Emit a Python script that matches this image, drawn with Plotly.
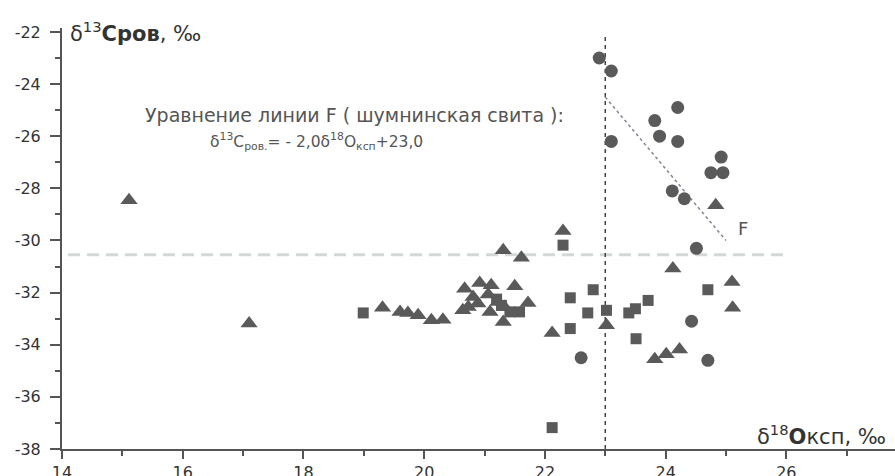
import plotly.graph_objects as go

# Isotope data: delta18O (carbonate) vs delta13C (organic matter)
circle_x = [22.9, 23.1, 24.2, 23.82, 23.9, 24.2, 23.1, 24.92, 24.75, 24.95, 24.11, 24.31, 24.51, 24.43, 22.6, 24.7]
circle_y = [-23.0, -23.5, -24.9, -25.4, -26.0, -26.2, -26.2, -26.8, -27.4, -27.4, -28.1, -28.4, -30.3, -33.1, -34.5, -34.6]

square_x = [22.3, 22.8, 22.42, 23.71, 23.5, 23.39, 22.71, 23.02, 22.42, 23.51, 22.12, 24.7, 18.99, 21.28, 21.42, 21.58, 21.2]
square_y = [-30.18, -31.89, -32.2, -32.3, -32.62, -32.78, -32.78, -32.68, -33.38, -33.77, -37.18, -31.89, -32.78, -32.49, -32.74, -32.74, -32.25]

triangle_x = [15.11, 17.10, 19.31, 19.60, 19.73, 19.90, 20.12, 20.31, 20.67, 20.92, 21.11, 21.50,
              20.81, 21.06, 20.73, 20.89, 21.22, 21.33, 21.72, 21.09, 21.31, 20.64, 21.31, 21.61,
              22.30, 24.83, 24.12, 25.10, 25.11, 23.02, 22.12, 24.23, 24.01, 23.82]
triangle_y = [-28.46, -33.19, -32.58, -32.74, -32.78, -32.87, -33.06, -33.04, -31.85, -31.63, -31.72, -31.76,
              -32.17, -32.07, -32.55, -32.42, -32.36, -32.55, -32.40, -32.74, -33.13, -32.68, -30.38, -30.66,
              -29.64, -28.65, -31.08, -31.59, -32.58, -33.25, -33.55, -34.18, -34.37, -34.56]

# Reference lines
hline_y = -30.55
hline_x = [14.1, 26.0]
vline_x = 23.0
vline_y = [-22.2, -38.0]
line_f_x = [23.0, 25.0]
line_f_y = [-24.5, -30.0]

x_ticks = [14, 16, 18, 20, 22, 24, 26]
y_ticks = [-38, -36, -34, -32, -30, -28, -26, -24, -22]
y_tick_text = ["-38", "-36", "-34", "-32", "-30", "-28", "-26", "-24", "-22"]

mark_color = "#5a5a5a"
font_main = "DejaVu Sans"

fig = go.Figure()

fig.add_trace(go.Scatter(x=hline_x, y=[hline_y, hline_y], mode="lines",
                         line=dict(color="#d3d9d4", width=3, dash="12px,7px"),
                         hoverinfo="skip", showlegend=False))
fig.add_trace(go.Scatter(x=[vline_x, vline_x], y=vline_y, mode="lines",
                         line=dict(color="#444444", width=1.5, dash="4px,4px"),
                         hoverinfo="skip", showlegend=False))
fig.add_trace(go.Scatter(x=line_f_x, y=line_f_y, mode="lines",
                         line=dict(color="#8c7f94", width=1.5, dash="dot"),
                         hoverinfo="skip", showlegend=False))

fig.add_trace(go.Scatter(x=square_x, y=square_y, mode="markers", showlegend=False,
                         marker=dict(symbol="square", size=11, color=mark_color,
                                     line=dict(width=0))))
fig.add_trace(go.Scatter(x=triangle_x, y=triangle_y, mode="markers", showlegend=False,
                         marker=dict(symbol="triangle-up", size=15, color=mark_color,
                                     line=dict(width=0))))
fig.add_trace(go.Scatter(x=circle_x, y=circle_y, mode="markers", showlegend=False,
                         marker=dict(symbol="circle", size=13, color=mark_color,
                                     line=dict(width=0))))

axis_common = dict(
    showgrid=False, zeroline=False, showline=True, linecolor="#555555", linewidth=2,
    ticks="outside", tickcolor="#555555", tickwidth=2, automargin=False,
    tickfont=dict(family=font_main, size=16, color="#333333"),
)

fig.update_xaxes(range=[14, 27.8], tickvals=x_ticks, ticklen=8,
                 minor=dict(dtick=1, tick0=0, ticks="outside", ticklen=5,
                            tickcolor="#555555", tickwidth=2),
                 ticklabelstandoff=0, **axis_common)
fig.update_yaxes(range=[-38, -21.85], tickvals=y_ticks, ticktext=y_tick_text, ticklen=10,
                 minor=dict(dtick=1, tick0=0, ticks="outside", ticklen=5,
                            tickcolor="#555555", tickwidth=2),
                 ticklabelstandoff=6, **axis_common)

annotations = [
    dict(x=14.1, y=-22.0, xanchor="left", yanchor="middle",
         text="δ<sup>13</sup><b>Cров</b>, ‰", font=dict(family=font_main, size=21, color="#333333")),
    dict(x=25.48, y=-37.45, xanchor="left", yanchor="middle",
         text="δ<sup>18</sup><b>O</b>ксп, ‰", font=dict(family=font_main, size=21, color="#333333")),
    dict(x=18.85, y=-25.2, xanchor="center", yanchor="middle",
         text="Уравнение линии F ( шумнинская свита ):",
         font=dict(family=font_main, size=19, color="#555555")),
    dict(x=18.22, y=-26.2, xanchor="center", yanchor="middle",
         text="δ<sup>13</sup>C<sub>ров.</sub>= - 2,0δ<sup>18</sup>O<sub>ксп</sub>+23,0",
         font=dict(family=font_main, size=15.5, color="#555555")),
    dict(x=25.28, y=-29.53, xanchor="center", yanchor="middle", text="F",
         font=dict(family=font_main, size=18, color="#555555")),
]
for a in annotations:
    a.update(xref="x", yref="y", showarrow=False)

fig.update_layout(
    width=895, height=476,
    margin=dict(l=62, r=0, t=28, b=27, autoexpand=False),
    paper_bgcolor="white", plot_bgcolor="white",
    annotations=annotations,
)

fig.write_html("out.html")
